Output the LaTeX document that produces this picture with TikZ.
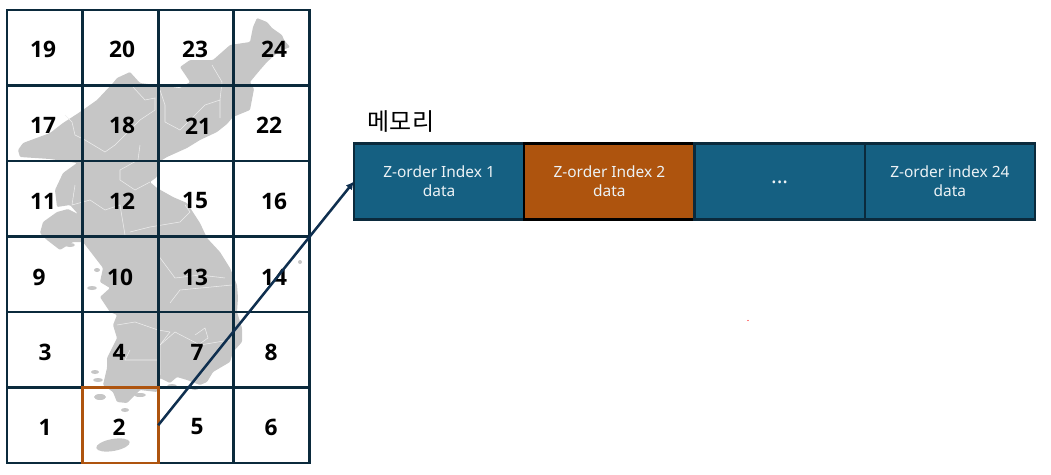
\documentclass[tikz,border=0pt]{standalone}
\usepackage{fontspec}
\setmainfont{Noto Sans}
\newfontfamily\numfont{Open Sans}[BoldFont={Open Sans Bold}]
\newfontfamily\krfont{Noto Sans CJK KR}
\usetikzlibrary{arrows.meta, positioning}

\definecolor{gridnavy}{HTML}{0B2A3C}
\definecolor{memblue}{HTML}{156082}
\definecolor{memorange}{HTML}{AE540E}
\definecolor{mapgray}{HTML}{C6C6C6}
\definecolor{arrownavy}{HTML}{0F2F4F}

\begin{document}
\begin{tikzpicture}[
  x=0.75pt, y=-0.75pt,
  cell/.style={draw=gridnavy, line width=2.1pt, rectangle, outer sep=0pt, minimum width=56.7pt, minimum height=56.6pt},
  hicell/.style={cell, draw=memorange},
  num/.style={font=\numfont\bfseries\fontsize{17}{18}\selectfont, text=black, inner sep=0pt},
  mem/.style={draw=gridnavy, line width=1.6pt, rectangle, outer sep=0pt, fill=memblue, text=white!92!memblue, align=center, minimum width=127.7pt, minimum height=57pt, font=\fontsize{11.6}{14.2}\selectfont},
  land/.style={fill=mapgray, draw=none},
  border/.style={draw=white!70!mapgray, line width=0.4pt},
  arrow/.style={-{Latex[length=6pt,width=6pt]}, line width=1.9pt, draw=arrownavy}
]
\useasboundingbox (0,0) rectangle (1051,475);

% Map
\fill[land, rounded corners=0.8pt] (257,18) -- (267,22) -- (272,28) -- (282,35) -- (284,40) -- (290,47) -- (283,50) -- (277,53) -- (267,62) -- (260,70) -- (250,82) -- (254,89) -- (250,110) -- (233,117) -- (227,124) -- (217,132) -- (200,140) -- (187,148) -- (167,157) -- (157,163) -- (157,177) -- (150,182) -- (157,188) -- (173,197) -- (187,203) -- (200,223) -- (207,238) -- (220,252) -- (230,268) -- (237,285) -- (238,298) -- (237,312) -- (242,328) -- (242,342) -- (233,352) -- (230,362) -- (213,372) -- (207,382) -- (200,385) -- (187,380) -- (177,377) -- (170,383) -- (160,378) -- (157,392) -- (140,390) -- (127,403) -- (117,402) -- (113,392) -- (103,385) -- (107,368) -- (107,358) -- (117,338) -- (113,325) -- (117,315) -- (110,312) -- (100,297) -- (110,288) -- (100,282) -- (103,268) -- (93,255) -- (83,242) -- (73,242) -- (60,250) -- (47,240) -- (40,233) -- (43,222) -- (57,212) -- (68,209) -- (78,214) -- (70,205) -- (57,207) -- (55,190) -- (63,173) -- (77,163) -- (50,159) -- (20,157) -- (18,150) -- (23,143) -- (50,133) -- (63,123) -- (80,112) -- (97,100) -- (113,83) -- (117,78) -- (130,72) -- (140,83) -- (180,88) -- (190,82) -- (180,67) -- (190,60) -- (213,60) -- (230,45) -- (250,42) -- (253,27) -- cycle;
\fill[land, rotate around={10:(113,445)}] (113,445) ellipse [x radius=17, y radius=6];
\fill[land] (100,397) ellipse [x radius=6, y radius=3];
\fill[land] (300,262) circle [radius=2];
\fill[land] (125,410) ellipse [x radius=4, y radius=2];
\fill[land] (140,395) ellipse [x radius=6, y radius=2];
\fill[land] (172,386) ellipse [x radius=5, y radius=2];
\fill[land] (195,388) ellipse [x radius=4, y radius=2];
\fill[land] (70,245) ellipse [x radius=5, y radius=2];
\fill[land] (95,372) ellipse [x radius=4, y radius=2];
\fill[land] (98,380) ellipse [x radius=5, y radius=2];
\fill[land] (92,288) ellipse [x radius=5, y radius=2];
\fill[land] (97,270) ellipse [x radius=3, y radius=2];

% Province borders
\draw[border] (133,87) -- (145,100) -- (155,98) -- (155,110) -- (140,120) -- (130,130) -- (115,145) -- (105,152) -- (85,140) -- (75,135) -- (72,122) -- (65,115);
\draw[border] (160,90) -- (165,105) -- (165,122) -- (180,130) -- (195,115) -- (205,105) -- (220,100) -- (220,118);
\draw[border] (212,65) -- (222,82) -- (220,100);
\draw[border] (140,145) -- (138,160) -- (120,170) -- (120,180) -- (135,190) -- (150,182);
\draw[border] (75,185) -- (72,205) -- (90,200) -- (105,210) -- (120,205) -- (125,235);
\draw[border] (130,232) -- (150,227) -- (180,222) -- (190,212) -- (185,205);
\draw[border] (158,255) -- (175,278) -- (200,275) -- (225,278);
\draw[border] (170,303) -- (180,290) -- (232,285);
\draw[border] (117,325) -- (135,322) -- (158,330) -- (170,332) -- (160,345) -- (160,375);
\draw[border] (160,345) -- (175,332) -- (200,345) -- (230,340);
\draw[border] (130,350) -- (125,360) -- (158,360);
\draw[border] (195,335) -- (205,328) -- (208,338) -- (198,345);

% Grid
\foreach \n/\col/\row/\tx/\ty in {19/0/0/43/49, 20/1/0/122/49, 23/2/0/195/49, 24/3/0/274/49,
  17/0/1/43/125, 18/1/1/122/125, 21/2/1/198/126, 22/3/1/269/125,
  11/0/2/43/201, 12/1/2/122/201, 15/2/2/195/201, 16/3/2/274/201,
  9/0/3/39/277, 10/1/3/120/277, 13/2/3/195/277, 14/3/3/274/277,
  3/0/4/45/352, 4/1/4/119/352, 7/2/4/197/352, 8/3/4/271/352,
  1/0/5/45/427, 5/2/5/197/427, 6/3/5/271/427}{
  \node[cell] (cell\n) at ({44.8+75.6*\col},{47.75+75.5*\row}) {};
  \node[num] (num\n) at (\tx,\ty) {\n};
}

% Selected cell
\node[hicell] (cell2) at ({44.8+75.6},{47.75+75.5*5}) {};
\node[num] (num2) at (119,427) {2};

% Memory
\node[font=\krfont\fontsize{18}{20}\selectfont, inner sep=0pt] (memlabel) at (401,122) {메모리};
\node[mem] (mem1) at (439.1,181.5) {Z-order Index 1\\data};
\node[mem, fill=memorange, draw=black, right=0pt of mem1] (mem2) {Z-order Index 2\\data};
\node[mem, right=0pt of mem2] (mem3) {\fontsize{16}{16}\selectfont\raisebox{-0.4ex}{...}};
\node[mem, right=0pt of mem3] (mem24) {Z-order index 24\\data};

% Arrow
\draw[arrow] (cell2.east) -- (mem1.west);

% Stray dot
\fill[red] (748,320.5) circle [radius=0.7];

\end{tikzpicture}
\end{document}
